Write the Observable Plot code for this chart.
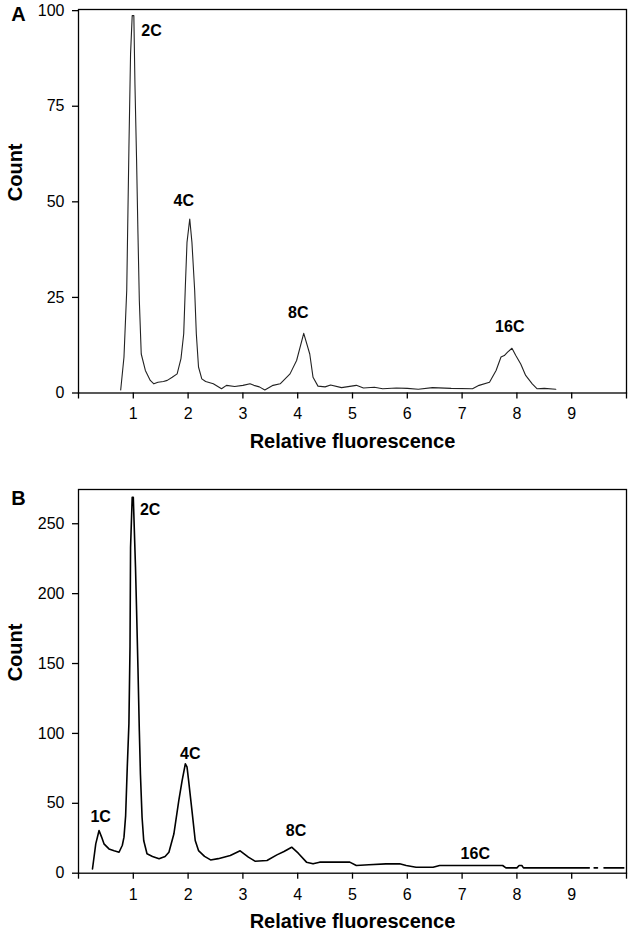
<!DOCTYPE html>
<html>
<head>
<meta charset="utf-8">
<script src="https://cdn.jsdelivr.net/npm/d3@7"></script>
<script src="https://cdn.jsdelivr.net/npm/@observablehq/plot@0.6"></script>
<style>
  html, body { margin: 0; padding: 0; background: #fff; }
  #chart { width: 628px; }
  #chart svg { display: block; }
</style>
</head>
<body>
<div id="chart"></div>
<script>
// ---------- Panel A data ----------
const fluorA = [0.77,0.83,0.88,0.92,0.95,0.98,1.01,1.03,1.06,1.085,1.11,1.145,1.22,1.31,1.375,1.45,1.55,1.62,1.71,1.80,1.87,1.92,1.95,1.98,2.03,2.07,2.12,2.15,2.19,2.25,2.32,2.46,2.61,2.70,2.85,3.0,3.13,3.2,3.30,3.40,3.55,3.68,3.86,3.98,4.11,4.22,4.28,4.37,4.5,4.6,4.8,5.07,5.2,5.4,5.55,5.8,6.0,6.2,6.46,6.8,7.19,7.31,7.50,7.62,7.71,7.77,7.83,7.91,7.98,8.07,8.16,8.28,8.37,8.5,8.71];
const countA = [0.8,9.4,26.8,64,88.7,98.7,98.7,80.8,60.8,41.7,24.2,10.2,5.9,3.3,2.4,2.8,3.0,3.3,4.1,5.0,9.0,15.5,28,39.4,45.5,39.4,26.8,15.5,6.8,3.7,3.0,2.4,1.1,2.0,1.7,2.0,2.4,2.0,1.6,0.8,2.0,2.4,5.0,8.5,15.6,10.2,4.1,1.8,1.6,2.1,1.4,2.0,1.3,1.5,1.1,1.3,1.2,1.0,1.4,1.2,1.1,2.0,2.8,5.9,9.4,9.8,10.7,11.7,9.8,7.6,4.6,2.4,1.1,1.2,1.0];
const peakNamesA = ["2C","4C","8C","16C"];
const peakXA = [1.145,1.92,4.01,7.87];
const peakYA = [94.8,50.3,21,17.4];
const peakAnchorA = ["start","middle","middle","middle"];

// ---------- Panel B data ----------
const fluorB = [0.255,0.315,0.375,0.42,0.465,0.556,0.65,0.74,0.80,0.83,0.86,0.89,0.92,0.94,0.95,0.98,1.0,1.04,1.06,1.085,1.11,1.13,1.16,1.19,1.25,1.35,1.47,1.58,1.65,1.74,1.83,1.89,1.95,1.98,2.01,2.07,2.13,2.19,2.3,2.41,2.55,2.77,2.95,3.1,3.22,3.44,3.62,3.75,3.89,4.01,4.16,4.28,4.4,4.95,5.07,5.3,5.61,5.86,5.98,6.16,6.47,6.59,7.74,7.8,8.0,8.04,8.09,8.12,9.32,9.33,9.41,9.47,9.48,9.59,9.95];
const countB = [3,21,30.5,26,21,17.4,16,15,20,25.8,41,76,107,162,233,269,269,219,188,147,102,71,40,23.4,13.9,12,10.3,12,15,28,52,66,78.3,76,66,45,23.4,16.2,12,9.5,10.4,12.7,16,11.5,8.6,9.1,13.1,15.5,18.6,14.3,7.9,6.7,7.9,7.9,5.5,6,6.7,6.7,5.5,4.3,4.3,5.5,5.5,3.8,3.8,5.5,5.5,3.8,3.8,null,3.8,3.8,null,3.8,3.8];
const peakNamesB = ["1C","2C","4C","8C","16C"];
const peakXB = [0.405,1.12,2.04,3.97,7.24];
const peakYB = [40,260,85.4,30,13.9];
const peakAnchorB = ["middle","start","middle","middle","middle"];

// ---------- Axis ticks ----------
const xTicks = [0,1,2,3,4,5,6,7,8,9,10];
const xTickLabels = ["","1","2","3","4","5","6","7","8","9",""];
const yTicksA = [0,25,50,75,100];
const yTicksB = [0,50,100,150,200,250];

const FONT = "'Liberation Sans', Arial, Helvetica, sans-serif";

function panel(opts) {
  const data = opts.x.map((x, i) => ({x, y: opts.y[i]}));
  const peaks = opts.names.map((t, i) => ({t, x: opts.px[i], y: opts.py[i], a: opts.anchors[i]}));
  return Plot.plot({
    width: 628,
    height: opts.height,
    marginLeft: 78,
    marginRight: 2,
    marginTop: opts.marginTop,
    marginBottom: opts.marginBottom,
    style: {fontFamily: FONT, fontSize: "16px", color: "#000", background: "#fff"},
    x: {domain: [0, 10]},
    y: {domain: opts.yDomain},
    marks: [
      Plot.frame({stroke: "#000", strokeWidth: 1.3}),
      Plot.axisX({ticks: xTicks, tickFormat: (d, i) => xTickLabels[xTicks.indexOf(d)], tickSize: 6, tickPadding: 9, fontSize: 16, label: null, strokeWidth: 1.3}),
      Plot.axisY({ticks: opts.yTicks, tickSize: 6, tickPadding: 8, fontSize: 16, label: null, strokeWidth: 1.3}),
      Plot.line(data, {x: "x", y: "y", stroke: opts.stroke, strokeWidth: opts.strokeWidth, curve: "linear"}),
      Plot.text(peaks.filter(d => d.a === "start"), {x: "x", y: "y", text: "t", textAnchor: "start", fontWeight: "bold", fontSize: 16}),
      Plot.text(peaks.filter(d => d.a === "middle"), {x: "x", y: "y", text: "t", textAnchor: "middle", fontWeight: "bold", fontSize: 16}),
      Plot.text(["Relative fluorescence"], {frameAnchor: "bottom", dy: opts.xLabelDy, fontWeight: "bold", fontSize: 20, lineAnchor: "middle"}),
      Plot.text(["Count"], {frameAnchor: "left", dx: -63, rotate: -90, fontWeight: "bold", fontSize: 20, lineAnchor: "middle"}),
      Plot.text([opts.letter], {frameAnchor: "top-left", dx: -60, dy: opts.letterDy, fontWeight: "bold", fontSize: 20, lineAnchor: "middle", textAnchor: "middle"})
    ]
  });
}

const chart = document.getElementById("chart");
chart.append(panel({
  x: fluorA, y: countA, names: peakNamesA, px: peakXA, py: peakYA, anchors: peakAnchorA,
  height: 460, marginTop: 9, marginBottom: 67.5, yDomain: [0, 100.3], yTicks: yTicksA,
  stroke: "#222", strokeWidth: 1.1, xLabelDy: 49, letter: "A", letterDy: 5
}));
chart.append(panel({
  x: fluorB, y: countB, names: peakNamesB, px: peakXB, py: peakYB, anchors: peakAnchorB,
  height: 476, marginTop: 29, marginBottom: 63.3, yDomain: [0, 274.5], yTicks: yTicksB,
  stroke: "#000", strokeWidth: 1.6, xLabelDy: 48, letter: "B", letterDy: 9
}));
</script>
</body>
</html>
